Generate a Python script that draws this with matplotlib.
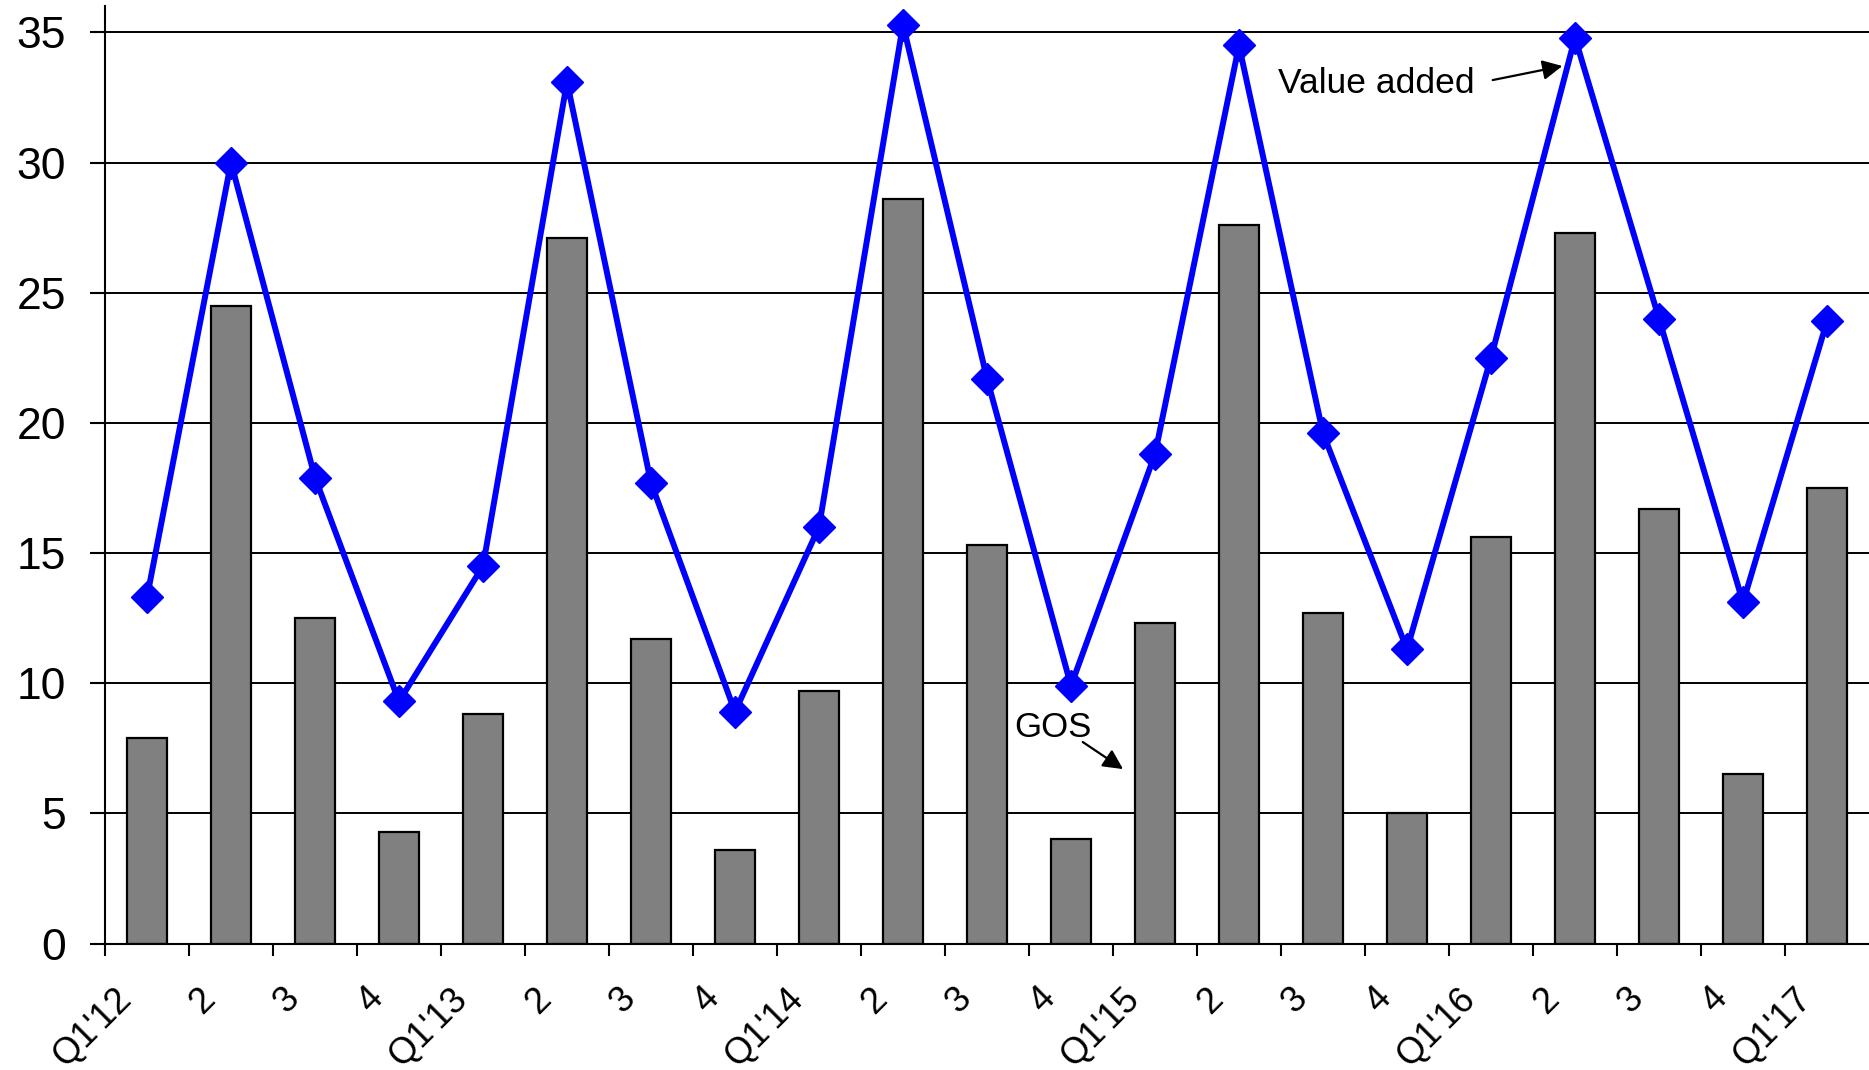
import matplotlib
matplotlib.use("Agg")
import matplotlib.pyplot as plt
import matplotlib.transforms as mtransforms
import numpy as np

plt.rcParams['font.family'] = ['Liberation Sans', 'DejaVu Sans']

categories = ["Q1'12", "2", "3", "4", "Q1'13", "2", "3", "4", "Q1'14", "2", "3", "4",
              "Q1'15", "2", "3", "4", "Q1'16", "2", "3", "4", "Q1'17"]
gos = [7.9, 24.5, 12.5, 4.3, 8.8, 27.1, 11.7, 3.6, 9.7, 28.6, 15.3, 4.0,
       12.3, 27.6, 12.7, 5.0, 15.6, 27.3, 16.7, 6.5, 17.5]
value_added = [13.3, 30.0, 17.9, 9.3, 14.5, 33.1, 17.7, 8.9, 16.0, 35.3, 21.7, 9.9,
               18.8, 34.5, 19.6, 11.3, 22.5, 34.8, 24.0, 13.1, 23.9]
yticks = [0, 5, 10, 15, 20, 25, 30, 35]

W, H = 1869, 1070
fig = plt.figure(figsize=(W / 100, H / 100), dpi=100)
left_px, right_px, bottom_px, top_px = 105, 1869, 943.5, 6.4
ax = fig.add_axes([left_px / W, 1 - bottom_px / H, (right_px - left_px) / W, (bottom_px - top_px) / H])

x = np.arange(len(categories))
ax.set_xlim(-0.5, len(categories) - 0.5)
ax.set_ylim(0, 36)

ax.set_yticks(yticks)
ax.set_yticklabels([str(v) for v in yticks], fontsize=32)
for y in yticks[1:]:
    ax.axhline(y, color='black', lw=1.4, zorder=1)

ax.bar(x, gos, width=0.48, color='#808080', edgecolor='black', linewidth=1.6, zorder=2)
ax.plot(x, value_added, color='#0000FF', lw=4.3, marker='D', markersize=16,
        markeredgecolor='#0000FF', markeredgewidth=1, zorder=3)

for s in ['top', 'right']:
    ax.spines[s].set_visible(False)
for s in ['left', 'bottom']:
    ax.spines[s].set_linewidth(1.5)
    ax.spines[s].set_color('black')

ax.tick_params(axis='y', length=11, width=1.5, pad=17, direction='out')
bounds = np.arange(len(categories)) - 0.5
ax.set_xticks(bounds)
ax.set_xticklabels([])
ax.tick_params(axis='x', length=8.5, width=1.5, direction='out')

offset = mtransforms.ScaledTranslation(0.21, -0.50, fig.dpi_scale_trans)
trans = ax.get_xaxis_transform() + offset
for b, lab in zip(bounds, categories):
    ax.text(b, 0, lab, transform=trans, rotation=45, rotation_mode='anchor',
            ha='right', va='center', fontsize=26)

arrow_kw = dict(arrowstyle='-|>', color='black', lw=1.6, mutation_scale=30,
                shrinkA=0, shrinkB=0)
ax.text(15.80, 32.67, 'Value added', fontsize=25.5, ha='right', va='baseline')
ax.annotate('', xy=(16.85, 33.71), xytext=(16.02, 33.17), arrowprops=arrow_kw)
ax.text(11.25, 7.93, 'GOS', fontsize=25, ha='right', va='baseline')
ax.annotate('', xy=(11.62, 6.70), xytext=(11.14, 7.74), arrowprops=arrow_kw)

fig.savefig('out.png', dpi=100)
